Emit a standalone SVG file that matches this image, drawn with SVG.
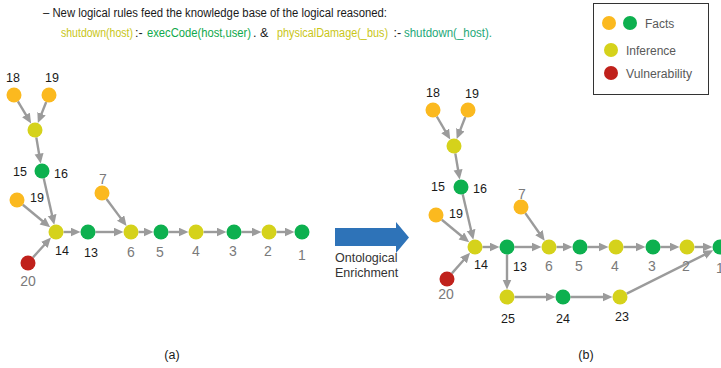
<svg xmlns="http://www.w3.org/2000/svg" width="721" height="368" viewBox="0 0 721 368">
<style>
text{font-family:"Liberation Sans",Arial,sans-serif}
.e{stroke:#9b9b9b;stroke-width:2.4;fill:none;marker-end:url(#ah)}
.o{fill:#fbb91f}.g{fill:#0db04f}.y{fill:#d5d21b}.r{fill:#c0211b}
.lb{font-size:12.5px;fill:#1a1a1a;text-anchor:middle}
.lg{font-size:14px;fill:#7a7a7a;text-anchor:middle}
.leg{font-size:12px;fill:#595959}
</style>
<defs>
<marker id="ah" markerUnits="userSpaceOnUse" markerWidth="11" markerHeight="10" refX="2" refY="4.5" orient="auto">
<path d="M0,0 L10,4.5 L0,9 z" fill="#9b9b9b"/>
</marker>
</defs>
<rect width="721" height="368" fill="#fff"/>

<g id="header">
<text x="43" y="17" font-size="12.5" fill="#1a1a1a" textLength="344" lengthAdjust="spacingAndGlyphs">– New logical rules feed the knowledge base of the logical reasoned:</text>
<text y="37" font-size="12.5">
<tspan x="61" fill="#c9c617" textLength="72" lengthAdjust="spacingAndGlyphs">shutdown(host)</tspan><tspan x="135" fill="#1a1a1a">:-</tspan><tspan x="147" fill="#10a94c" textLength="104" lengthAdjust="spacingAndGlyphs">execCode(host,user)</tspan><tspan x="253" fill="#1a1a1a">.</tspan><tspan x="260" fill="#1a1a1a">&amp;</tspan><tspan x="277" fill="#c9c617" textLength="111" lengthAdjust="spacingAndGlyphs">physicalDamage(_bus)</tspan><tspan x="393.5" fill="#1a1a1a">:-</tspan><tspan x="404" fill="#1ea878" textLength="88" lengthAdjust="spacingAndGlyphs">shutdown(_host).</tspan>
</text>
</g>

<g id="legend">
<rect x="593.5" y="3.5" width="115" height="91" fill="#fff" stroke="#333" stroke-width="1"/>
<circle cx="609" cy="23" r="7" class="o"/>
<circle cx="630" cy="23" r="7" class="g"/>
<text x="645" y="27.5" class="leg">Facts</text>
<circle cx="611" cy="50" r="7" class="y"/>
<text x="626" y="54.5" class="leg">Inference</text>
<circle cx="611" cy="73" r="7" class="r"/>
<text x="626" y="77.5" class="leg" textLength="66" lengthAdjust="spacingAndGlyphs">Vulnerability</text>
</g>

<g id="connectors">
<line class="e" x1="17.9" y1="101.4" x2="27.0" y2="116.7"/>
<line class="e" x1="46.2" y1="102.0" x2="40.8" y2="115.6"/>
<line class="e" x1="36.3" y1="137.4" x2="39.4" y2="155.7"/>
<line class="e" x1="43.7" y1="178.3" x2="52.5" y2="216.9"/>
<line class="e" x1="22.8" y1="204.8" x2="44.0" y2="222.2"/>
<line class="e" x1="33.0" y1="257.4" x2="45.6" y2="243.5"/>
<line class="e" x1="63.5" y1="232" x2="72.5" y2="232"/>
<line class="e" x1="95.5" y1="232" x2="115.5" y2="232"/>
<line class="e" x1="106.5" y1="199.0" x2="121.8" y2="219.6"/>
<line class="e" x1="138.5" y1="232" x2="145.5" y2="232"/>
<line class="e" x1="168.5" y1="232" x2="180.5" y2="232"/>
<line class="e" x1="203.5" y1="232" x2="218.5" y2="232"/>
<line class="e" x1="241.5" y1="232" x2="253.5" y2="232"/>
<line class="e" x1="276.5" y1="232" x2="286.5" y2="232"/>

<line class="e" x1="436.8" y1="116.5" x2="446.2" y2="132.6"/>
<line class="e" x1="465.3" y1="117.0" x2="459.6" y2="131.6"/>
<line class="e" x1="455.3" y1="153.4" x2="458.4" y2="171.7"/>
<line class="e" x1="462.7" y1="194.3" x2="471.5" y2="231.9"/>
<line class="e" x1="441.8" y1="219.8" x2="463.0" y2="237.2"/>
<line class="e" x1="451.9" y1="273.4" x2="464.8" y2="258.7"/>
<line class="e" x1="482.5" y1="247" x2="491.5" y2="247"/>
<line class="e" x1="514.5" y1="247" x2="533.5" y2="247"/>
<line class="e" x1="525.3" y1="213.1" x2="540.1" y2="234.3"/>
<line class="e" x1="556.5" y1="247" x2="564.5" y2="247"/>
<line class="e" x1="587.5" y1="247" x2="600.5" y2="247"/>
<line class="e" x1="623.5" y1="247" x2="637.5" y2="247"/>
<line class="e" x1="660.5" y1="247" x2="671.5" y2="247"/>
<line class="e" x1="694.5" y1="247" x2="704.5" y2="247"/>
<line class="e" x1="507" y1="254.5" x2="507" y2="281.5"/>
<line class="e" x1="514.5" y1="297" x2="547.5" y2="297"/>
<line class="e" x1="570.5" y1="297" x2="604.5" y2="297"/>
<line class="e" x1="626.7" y1="293.6" x2="706.1" y2="253.9"/>
</g>

<g id="a-n18"><circle cx="14" cy="95" r="7.5" class="o"/><text x="13" y="81.5" class="lb">18</text></g>
<g id="a-n19a"><circle cx="49" cy="95" r="7.5" class="o"/><text x="52" y="81.5" class="lb">19</text></g>
<g id="a-inf"><circle cx="35" cy="130" r="7.5" class="y"/></g>
<g id="a-n15"><circle cx="42" cy="171" r="7.5" class="g"/><text x="20" y="175.5" class="lb">15</text><text x="61" y="177.5" class="lb">16</text></g>
<g id="a-n19b"><circle cx="17" cy="200" r="7.5" class="o"/><text x="37" y="201.5" class="lb">19</text></g>
<g id="a-n14"><circle cx="56" cy="232" r="7.5" class="y"/><text x="62" y="254.5" class="lb">14</text></g>
<g id="a-n13"><circle cx="88" cy="232" r="7.5" class="g"/><text x="91" y="256.5" class="lb">13</text></g>
<g id="a-n7"><circle cx="102" cy="193" r="7.5" class="o"/><text x="103" y="184" class="lg">7</text></g>
<g id="a-n6"><circle cx="131" cy="232" r="7.5" class="y"/><text x="131" y="257" class="lg">6</text></g>
<g id="a-n5"><circle cx="161" cy="232" r="7.5" class="g"/><text x="160" y="257" class="lg">5</text></g>
<g id="a-n4"><circle cx="196" cy="232" r="7.5" class="y"/><text x="196" y="256" class="lg">4</text></g>
<g id="a-n3"><circle cx="234" cy="232" r="7.5" class="g"/><text x="233" y="256" class="lg">3</text></g>
<g id="a-n2"><circle cx="269" cy="232" r="7.5" class="y"/><text x="268" y="256" class="lg">2</text></g>
<g id="a-n1"><circle cx="302" cy="232" r="7.5" class="g"/><text x="302" y="260" class="lg">1</text></g>
<g id="a-n20"><circle cx="28" cy="263" r="7.5" class="r"/><text x="28" y="286" class="lg">20</text></g>

<g id="enrichment">
<polygon points="335,228 396,228 396,222 409,237.5 396,253 396,246 335,246" fill="#2e73b8"/>
<text x="335" y="261.5" font-size="12.5" fill="#333">Ontological</text>
<text x="335" y="276.5" font-size="12.5" fill="#333">Enrichment</text>
</g>

<g id="b-n18"><circle cx="433" cy="110" r="7.5" class="o"/><text x="433" y="96.5" class="lb">18</text></g>
<g id="b-n19a"><circle cx="468" cy="110" r="7.5" class="o"/><text x="472" y="97.5" class="lb">19</text></g>
<g id="b-inf"><circle cx="454" cy="146" r="7.5" class="y"/></g>
<g id="b-n15"><circle cx="461" cy="187" r="7.5" class="g"/><text x="438" y="190.5" class="lb">15</text><text x="480" y="192.5" class="lb">16</text></g>
<g id="b-n19b"><circle cx="436" cy="215" r="7.5" class="o"/><text x="456" y="217.5" class="lb">19</text></g>
<g id="b-n7"><circle cx="521" cy="207" r="7.5" class="o"/><text x="522" y="199" class="lg">7</text></g>
<g id="b-n14"><circle cx="475" cy="247" r="7.5" class="y"/><text x="481" y="268.5" class="lb">14</text></g>
<g id="b-n13"><circle cx="507" cy="247" r="7.5" class="g"/><text x="520" y="270.5" class="lb">13</text></g>
<g id="b-n6"><circle cx="549" cy="247" r="7.5" class="y"/><text x="549" y="271" class="lg">6</text></g>
<g id="b-n5"><circle cx="580" cy="247" r="7.5" class="g"/><text x="579" y="271" class="lg">5</text></g>
<g id="b-n4"><circle cx="616" cy="247" r="7.5" class="y"/><text x="615" y="271" class="lg">4</text></g>
<g id="b-n3"><circle cx="653" cy="247" r="7.5" class="g"/><text x="652" y="271" class="lg">3</text></g>
<g id="b-n2"><circle cx="687" cy="247" r="7.5" class="y"/><text x="686" y="271" class="lg">2</text></g>
<g id="b-n1"><circle cx="720" cy="247" r="7.5" class="g"/><text x="720" y="273" class="lg">1</text></g>
<g id="b-n20"><circle cx="447" cy="279" r="7.5" class="r"/><text x="446" y="299" class="lg">20</text></g>
<g id="b-n25"><circle cx="507" cy="297" r="7.5" class="y"/><text x="508" y="322.5" class="lb">25</text></g>
<g id="b-n24"><circle cx="563" cy="297" r="7.5" class="g"/><text x="563" y="322.5" class="lb">24</text></g>
<g id="b-n23"><circle cx="620" cy="297" r="7.5" class="y"/><text x="622" y="320.5" class="lb">23</text></g>

<text x="172" y="359" font-size="12.5" fill="#1a1a1a" text-anchor="middle">(a)</text>
<text x="586" y="359" font-size="12.5" fill="#1a1a1a" text-anchor="middle">(b)</text>
</svg>
